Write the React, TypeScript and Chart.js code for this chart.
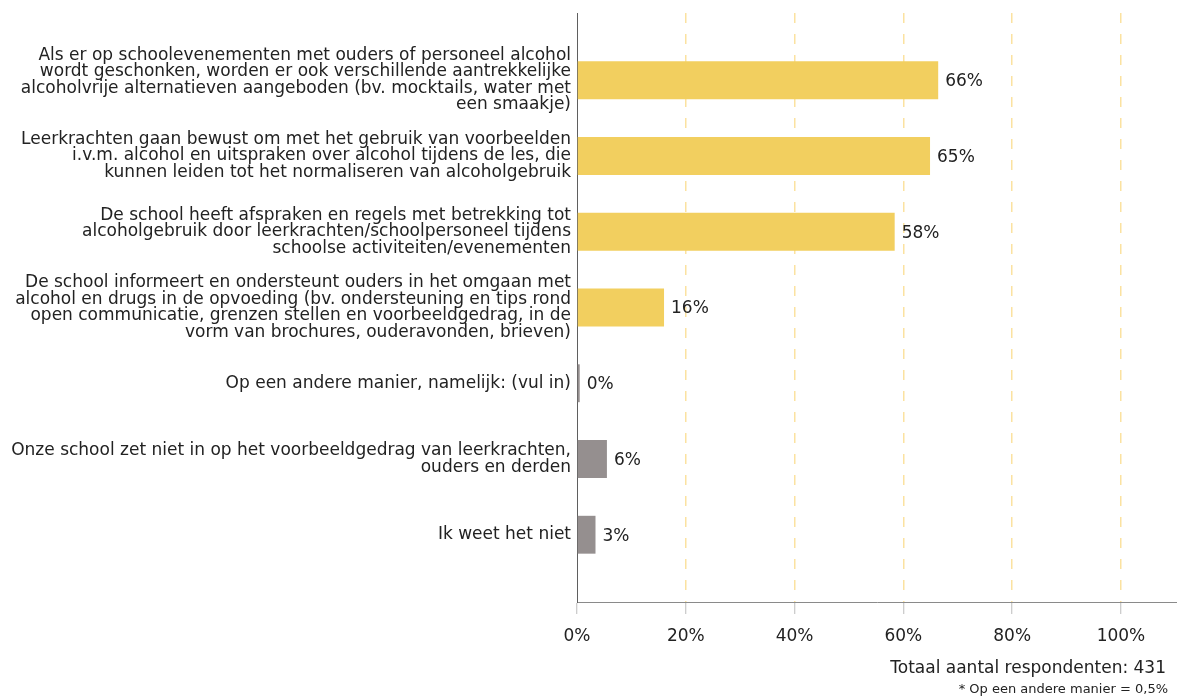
import React, { useEffect, useRef } from "react";
import { Chart, registerables } from "chart.js";

Chart.register(...registerables);

const categories: string[][] = [
  [
    "Als er op schoolevenementen met ouders of personeel alcohol",
    "wordt geschonken, worden er ook verschillende aantrekkelijke",
    "alcoholvrije alternatieven aangeboden (bv. mocktails, water met",
    "een smaakje)",
  ],
  [
    "Leerkrachten gaan bewust om met het gebruik van voorbeelden",
    "i.v.m. alcohol en uitspraken over alcohol tijdens de les, die",
    "kunnen leiden tot het normaliseren van alcoholgebruik",
  ],
  [
    "De school heeft afspraken en regels met betrekking tot",
    "alcoholgebruik door leerkrachten/schoolpersoneel tijdens",
    "schoolse activiteiten/evenementen",
  ],
  [
    "De school informeert en ondersteunt ouders in het omgaan met",
    "alcohol en drugs in de opvoeding (bv. ondersteuning en tips rond",
    "open communicatie, grenzen stellen en voorbeeldgedrag, in de",
    "vorm van brochures, ouderavonden, brieven)",
  ],
  ["Op een andere manier, namelijk: (vul in)"],
  [
    "Onze school zet niet in op het voorbeeldgedrag van leerkrachten,",
    "ouders en derden",
  ],
  ["Ik weet het niet"],
];

const values: number[] = [66.4, 64.9, 58.4, 16.0, 0.5, 5.5, 3.4];
const valueLabels: string[] = ["66%", "65%", "58%", "16%", "0%", "6%", "3%"];
const barColors: string[] = [
  "#F2CF5F",
  "#F2CF5F",
  "#F2CF5F",
  "#F2CF5F",
  "#958F8F",
  "#958F8F",
  "#958F8F",
];
const xTicks: number[] = [0, 20, 40, 60, 80, 100];
const footerText = "Totaal aantal respondenten: 431";
const footnoteText = "* Op een andere manier = 0,5%";

const FONT = "'DejaVu Sans', Verdana, sans-serif";

export default function App() {
  const canvasRef = useRef<HTMLCanvasElement | null>(null);

  useEffect(() => {
    document.body.style.margin = "0";
    const canvas = canvasRef.current;
    if (!canvas) return;

    const valueLabelPlugin = {
      id: "valueLabels",
      afterDatasetsDraw(chart: any) {
        const ctx = chart.ctx;
        const meta = chart.getDatasetMeta(0);
        ctx.save();
        ctx.font = `17px ${FONT}`;
        ctx.fillStyle = "#222";
        ctx.textAlign = "left";
        ctx.textBaseline = "middle";
        meta.data.forEach((bar: any, i: number) => {
          ctx.fillText(valueLabels[i], bar.x + 7, bar.y + 1.5);
        });
        ctx.restore();
      },
    };

    const footerPlugin = {
      id: "footer",
      afterDraw(chart: any) {
        const ctx = chart.ctx;
        ctx.save();
        ctx.fillStyle = "#222";
        ctx.textAlign = "right";
        ctx.textBaseline = "middle";
        ctx.font = `17px ${FONT}`;
        ctx.fillText(footerText, chart.width - 11, 669);
        ctx.font = `13px ${FONT}`;
        ctx.fillText(footnoteText, chart.width - 9, 690);
        ctx.restore();
      },
    };

    const chart = new Chart(canvas, {
      type: "bar",
      data: {
        datasets: [
          {
            data: values.map((v, i) => ({ x: v, y: i })),
            backgroundColor: barColors,
            borderWidth: 0,
            barPercentage: 0.5,
            categoryPercentage: 1.0,
          },
        ],
      },
      options: {
        indexAxis: "y",
        animation: false,
        responsive: false,
        devicePixelRatio: 1,
        layout: { padding: { top: 13, left: 0, right: 0, bottom: 0 } },
        plugins: {
          legend: { display: false },
          tooltip: { enabled: false },
          title: { display: false },
        },
        scales: {
          x: {
            type: "linear",
            position: "bottom",
            min: 0,
            max: 110.3,
            offset: false,
            afterBuildTicks(scale: any) {
              scale.ticks = xTicks.map((v) => ({ value: v }));
            },
            afterFit(scale: any) {
              scale.height = 98;
              scale.paddingLeft = 0;
              scale.paddingRight = 0;
              scale.paddingTop = 0;
              scale.paddingBottom = 0;
            },
            grid: {
              display: true,
              drawOnChartArea: true,
              drawTicks: true,
              tickLength: 12,
              lineWidth: 1.5,
              color: (ctx: any) =>
                ctx.tick && ctx.tick.value === 0 ? "rgba(0,0,0,0)" : "#FBE2A0",
              tickColor: "#BDBDBD",
              tickWidth: 1,
            },
            border: { display: true, color: "#8A8A8A", width: 1, dash: [10, 11] },
            ticks: {
              padding: 12,
              color: "#222",
              font: { family: FONT, size: 17 },
              callback: (v: any) => `${v}%`,
              autoSkip: false,
              maxRotation: 0,
            },
          },
          y: {
            type: "linear",
            position: "left",
            reverse: true,
            offset: false,
            grace: 0,
            min: -0.888,
            max: 6.888,
            afterBuildTicks(scale: any) {
              scale.ticks = categories.map((_, i) => ({ value: i }));
            },
            afterFit(scale: any) {
              scale.width = 577;
              scale.paddingTop = 0;
              scale.paddingBottom = 0;
              scale.paddingLeft = 0;
              scale.paddingRight = 0;
            },
            grid: { display: false, drawTicks: false, offset: false },
            border: { display: true, color: "#5F5F5F", width: 1 },
            ticks: {
              padding: 6,
              color: "#222",
              autoSkip: false,
              font: { family: FONT, size: 17, lineHeight: "16.5px" },
              callback: (v: any) => categories[v as number] ?? "",
            },
          },
        },
      },
      plugins: [valueLabelPlugin, footerPlugin],
    } as any);

    return () => {
      chart.destroy();
    };
  }, []);

  return (
    <div style={{ width: 1177, height: 700 }}>
      <canvas ref={canvasRef} width={1177} height={700} style={{ display: "block" }} />
    </div>
  );
}
